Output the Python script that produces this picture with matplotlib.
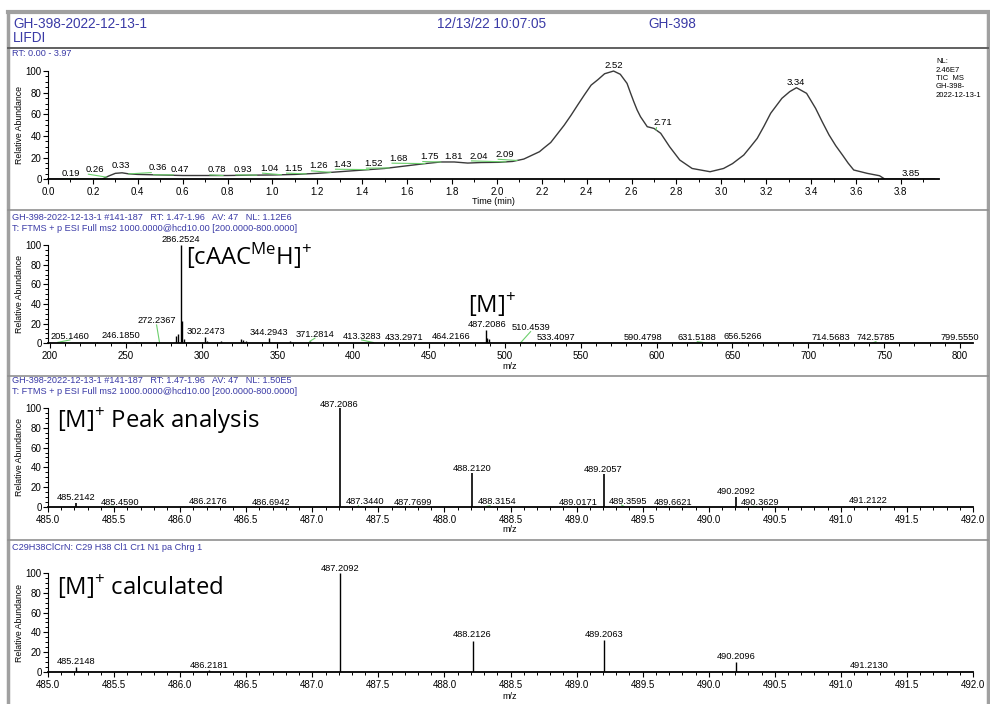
import numpy as np
import matplotlib
matplotlib.use('Agg')
import matplotlib.pyplot as plt
from matplotlib.lines import Line2D
from matplotlib.ticker import MultipleLocator, FormatStrFormatter

plt.rcParams['font.family'] = ['Liberation Sans', 'DejaVu Sans']
plt.rcParams['mathtext.fontset'] = 'custom'
plt.rcParams['mathtext.rm'] = 'Open Sans'

# TIC chromatogram
tic_time = [0.00, 0.10, 0.20, 0.24, 0.27, 0.30, 0.33, 0.36, 0.40, 0.50,
            0.60, 0.70, 0.80, 0.90, 1.00, 1.10, 1.20, 1.30, 1.40, 1.50,
            1.60, 1.68, 1.75, 1.81, 1.87, 1.93, 2.01, 2.07, 2.12, 2.19,
            2.21, 2.24, 2.27, 2.30, 2.33, 2.36, 2.39, 2.42, 2.45, 2.48,
            2.52, 2.55, 2.58, 2.595, 2.61, 2.625, 2.64, 2.67, 2.70, 2.73,
            2.77, 2.815, 2.87, 2.95, 3.01, 3.05, 3.10, 3.13, 3.16, 3.19,
            3.22, 3.27, 3.305, 3.335, 3.38, 3.42, 3.45, 3.48, 3.51, 3.54,
            3.565, 3.59, 3.65, 3.705, 3.73, 3.80, 3.95]
tic_abund = [0, 0, 0, 0, 3, 5.5, 6, 5, 4.5, 4,
             3.5, 3.5, 3.5, 3.8, 4, 4.5, 5.5, 7, 8.5, 10,
             12.5, 14.5, 16, 16, 15, 15.5, 15.7, 16.5, 18.7, 25.5,
             29, 34, 42, 50, 59, 68.6, 78, 87, 92, 97.5,
             100, 97, 88.6, 80, 71.7, 64, 57.8, 48.6, 47, 42.5,
             30, 17.8, 10, 7, 10, 14.5, 22.4, 30, 37.8, 49,
             61, 74.8, 81, 84.6, 79.4, 65.6, 53, 41, 31, 22.4,
             15, 8.6, 5.5, 3.3, 0, 0, 0]
tic_peaks = [0.19, 0.26, 0.33, 0.36, 0.47, 0.78, 0.93, 1.04, 1.15, 1.26, 1.43,
             1.52, 1.68, 1.75, 1.81, 2.04, 2.09, 2.52, 2.71, 3.34, 3.85]
tic_lab_x = [0.102, 0.21, 0.324, 0.49, 0.588, 0.751, 0.867, 0.986, 1.093, 1.204, 1.311,
             1.449, 1.563, 1.70, 1.808, 1.917, 2.036, 2.52, 2.741, 3.332, 3.844]
tic_lab_y = [4.9, 9.2, 12.3, 10.7, 8.6, 8.6, 8.6, 10.2, 10.2, 12.3, 13.8,
             14.8, 19.4, 20.9, 21.5, 21.5, 23.0, 105.5, 52.3, 89.2, 4.9]

# full scan spectrum
ms_mz = [205.1460, 230.8, 246.1850, 248.5, 257.0, 272.2367, 283.3, 284.6, 286.2524,
         287.25, 288.3, 302.2473, 303.3, 312.5, 326.0, 327.5, 329.0, 344.2943, 345.3,
         358.5, 371.2814, 413.3283, 433.2971, 464.2166, 487.2086, 488.21, 489.21,
         510.4539, 533.4097, 590.4798, 631.5188, 656.5266, 714.5683, 742.5785, 799.5550]
ms_int = [1.0, 1.5, 1.2, 1.0, 1.0, 0.8, 7, 9, 100,
          23, 4, 6.5, 2, 2, 4, 3, 2.5, 5, 1.5,
          2, 2, 0.8, 0.8, 1.5, 13.5, 5, 4,
          0.8, 0.6, 0.6, 0.6, 1.0, 0.5, 0.5, 0.5]
ms_lab = [205.1460, 246.1850, 272.2367, 286.2524, 302.2473, 344.2943, 371.2814,
          413.3283, 433.2971, 464.2166, 487.2086, 510.4539, 533.4097, 590.4798,
          631.5188, 656.5266, 714.5683, 742.5785, 799.5550]
ms_lab_x = [213.2, 246.6, 270.3, 286.25, 302.9, 344.6, 374.7,
            405.5, 433.4, 464.2, 488.0, 516.9, 533.6, 590.8,
            626.8, 656.7, 714.7, 744.6, 800.0]
ms_lab_y = [7.4, 8.4, 22.7, 106, 12.5, 10.8, 9.2,
            7.4, 5.7, 7.4, 19.3, 15.9, 5.7, 5.7,
            5.7, 6.7, 5.7, 5.7, 5.7]

# [M]+ peak analysis
pa_mz = [485.2142, 485.4590, 486.2176, 486.6942, 487.2086, 487.3440, 487.7699, 488.2120,
         488.3154, 489.0171, 489.2057, 489.3595, 489.6621, 490.2092, 490.3629, 491.2122]
pa_int = [4.3, 0.5, 1.0, 0.4, 100, 0.5, 0.4, 34,
          0.5, 0.5, 33, 0.5, 0.4, 10, 0.5, 1.2]
pa_lab_x = [485.21, 485.545, 486.21, 486.69, 487.205, 487.40, 487.765, 488.206,
            488.395, 489.013, 489.202, 489.39, 489.73, 490.207, 490.39, 491.21]
pa_lab_y = [9.8, 4.7, 6.0, 4.7, 104, 5.4, 4.7, 38.4,
            5.4, 4.7, 38.0, 6.0, 4.7, 15.5, 4.7, 6.4]

# [M]+ calculated isotope pattern
calc_mz = [485.2148, 486.2181, 487.2092, 488.2126, 489.2063, 490.2096, 491.2130]
calc_int = [4.7, 2.0, 100, 31.3, 32.3, 10.4, 1.5]
calc_lab_y = [11, 7, 105, 37.4, 37.4, 15.5, 6.4]

W, H = 990, 704
BLUE = '#3a3aa6'
GREEN = '#6ccf6c'
BIG = 17.2

fig = plt.figure(figsize=(W / 100, H / 100), dpi=100)


def fx(x):
    return x / W


def fy(y):
    return 1 - y / H


def add_ax(x0, x1, ybot, ytop):
    return fig.add_axes([x0 / W, 1 - ybot / H, (x1 - x0) / W, (ybot - ytop) / H])


def style(ax, xmaj, xmin, fmt):
    for s in ['top', 'right']:
        ax.spines[s].set_visible(False)
    ax.spines['left'].set_bounds(0, 100)
    ax.spines['left'].set_linewidth(0.8)
    ax.spines['bottom'].set_linewidth(1.3)
    ax.set_yticks(np.arange(0, 101, 20))
    ax.set_yticks(np.arange(0, 101, 5), minor=True)
    ax.xaxis.set_major_locator(MultipleLocator(xmaj))
    ax.xaxis.set_minor_locator(MultipleLocator(xmin))
    ax.xaxis.set_major_formatter(FormatStrFormatter(fmt))
    ax.tick_params(which='major', direction='out', length=3.5, width=0.8, labelsize=7, pad=2)
    ax.tick_params(which='minor', direction='out', length=2, width=0.7)
    ax.tick_params(axis='y', pad=1)
    ax.patch.set_alpha(0)


def rel_ab(yc):
    fig.text(fx(20), fy(yc), 'Relative Abundance', rotation=90, ha='center', va='center', fontsize=6.3)


# frame lines
fig.add_artist(Line2D([fx(8), fx(988)], [fy(12), fy(12)], color='#a0a0a0', lw=3))
fig.add_artist(Line2D([fx(8), fx(8)], [fy(12), fy(704)], color='#a0a0a0', lw=2.5))
fig.add_artist(Line2D([fx(988), fx(988)], [fy(12), fy(704)], color='#a0a0a0', lw=2.5))
fig.add_artist(Line2D([fx(8), fx(988)], [fy(47.5), fy(47.5)], color='#606060', lw=1.4))
for ys in [210, 376, 540]:
    fig.add_artist(Line2D([fx(8), fx(988)], [fy(ys), fy(ys)], color='#909090', lw=1.2))

# header
fig.text(fx(13), fy(24), 'GH-398-2022-12-13-1', color=BLUE, fontsize=9.8, va='center')
fig.text(fx(13), fy(38.5), 'LIFDI', color=BLUE, fontsize=9.8, va='center')
fig.text(fx(437), fy(24), '12/13/22 10:07:05', color=BLUE, fontsize=9.8, va='center')
fig.text(fx(648), fy(24), 'GH-398', color=BLUE, fontsize=9.8, va='center')

# ---- panel 1: chromatogram ----
ax1 = add_ax(48, 939, 179.3, 54.8)
ax1.set_xlim(0, 3.97)
ax1.set_ylim(0, 115)
style(ax1, 0.2, 0.1, '%.1f')
ax1.plot(tic_time, tic_abund, color='#3a3a3a', lw=1)
for t, lx, ly in zip(tic_peaks, tic_lab_x, tic_lab_y):
    ax1.text(lx, ly, f'{t:.2f}', ha='center', va='center', fontsize=6.8)
    if abs(lx - t) > 0.02:
        ax1.plot([lx - 0.03, t], [ly - 4.5, np.interp(t, tic_time, tic_abund)], color=GREEN, lw=0.8)
fig.text(fx(12), fy(53.5), 'RT: 0.00 - 3.97', color=BLUE, fontsize=6.6, va='center')
fig.text(fx(936), fy(58), 'NL:\n2.46E7\nTIC  MS\nGH-398-\n2022-12-13-1', fontsize=5.5,
         va='top', linespacing=1.3)
fig.text(fx(493), fy(201), 'Time (min)', fontsize=6.5, ha='center', va='center')
rel_ab(125)

# ---- panel 2: full spectrum ----
ax2 = add_ax(48, 973, 343.3, 230.3)
ax2.set_xlim(198.7, 808.6)
ax2.set_ylim(0, 115)
style(ax2, 50, 10, '%d')
ax2.vlines(ms_mz, 0, ms_int, color='k', lw=1)
for m, lx, ly in zip(ms_lab, ms_lab_x, ms_lab_y):
    ax2.text(lx, ly, f'{m:.4f}', ha='center', va='center', fontsize=6.7)
    if abs(lx - m) > 1.0:
        ax2.plot([lx, m], [ly - 4, ms_int[ms_mz.index(m)]], color=GREEN, lw=0.8)
fig.text(fx(12), fy(218), 'GH-398-2022-12-13-1 #141-187   RT: 1.47-1.96   AV: 47   NL: 1.12E6',
         color=BLUE, fontsize=6.6, va='center')
fig.text(fx(12), fy(228.5), 'T: FTMS + p ESI Full ms2 1000.0000@hcd10.00 [200.0000-800.0000]',
         color=BLUE, fontsize=6.6, va='center')
fig.text(fx(510), fy(366.5), 'm/z', fontsize=6.5, ha='center', va='center')
fig.text(fx(186), fy(265), r'[cAAC$^{\mathrm{Me}}$H]$^{\mathrm{+}}$', family=['Open Sans', 'DejaVu Sans'],
         fontsize=BIG, va='baseline')
fig.text(fx(468), fy(313), r'[M]$^{\mathrm{+}}$', family=['Open Sans', 'DejaVu Sans'],
         fontsize=BIG, va='baseline')
rel_ab(294)

# ---- panel 3: [M]+ peak analysis ----
ax3 = add_ax(48, 973, 507, 396.1)
ax3.set_xlim(485, 492)
ax3.set_ylim(0, 112)
style(ax3, 0.5, 0.1, '%.1f')
ax3.vlines(pa_mz, 0, pa_int, color='k', lw=1.2)
for m, h, lx, ly in zip(pa_mz, pa_int, pa_lab_x, pa_lab_y):
    ax3.text(lx, ly, f'{m:.4f}', ha='center', va='center', fontsize=6.7)
    if abs(lx - m) > 0.025:
        ax3.plot([lx - 0.05, m], [ly - 4, h], color=GREEN, lw=0.8)
fig.text(fx(12), fy(381), 'GH-398-2022-12-13-1 #141-187   RT: 1.47-1.96   AV: 47   NL: 1.50E5',
         color=BLUE, fontsize=6.6, va='center')
fig.text(fx(12), fy(392), 'T: FTMS + p ESI Full ms2 1000.0000@hcd10.00 [200.0000-800.0000]',
         color=BLUE, fontsize=6.6, va='center')
fig.text(fx(510), fy(530), 'm/z', fontsize=6.5, ha='center', va='center')
fig.text(fx(57), fy(428.5), r'[M]$^{\mathrm{+}}$ Peak analysis', family=['Open Sans', 'DejaVu Sans'],
         fontsize=BIG, va='baseline')
rel_ab(457.5)

# ---- panel 4: calculated ----
ax4 = add_ax(48, 973, 672, 561.1)
ax4.set_xlim(485, 492)
ax4.set_ylim(0, 112)
style(ax4, 0.5, 0.1, '%.1f')
ax4.vlines(calc_mz, 0, calc_int, color='k', lw=1)
for m, ly in zip(calc_mz, calc_lab_y):
    ax4.text(m, ly, f'{m:.4f}', ha='center', va='center', fontsize=6.7)
fig.text(fx(12), fy(547.5), 'C29H38ClCrN: C29 H38 Cl1 Cr1 N1 pa Chrg 1',
         color=BLUE, fontsize=6.6, va='center')
fig.text(fx(510), fy(696.5), 'm/z', fontsize=6.5, ha='center', va='center')
fig.text(fx(57), fy(595), r'[M]$^{\mathrm{+}}$ calculated', family=['Open Sans', 'DejaVu Sans'],
         fontsize=BIG, va='baseline')
rel_ab(622.5)

fig.savefig('out.png', dpi=100)
